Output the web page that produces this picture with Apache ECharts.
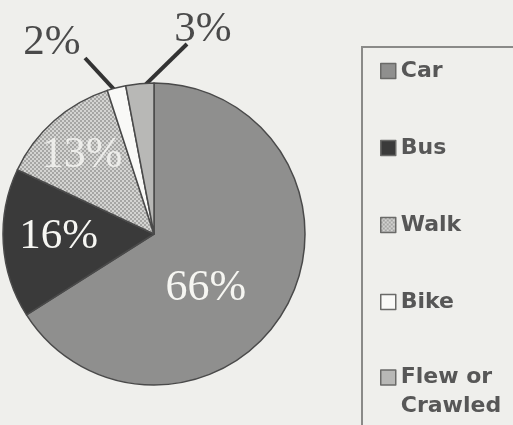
<!DOCTYPE html>
<html>
<head>
<meta charset="utf-8">
<script src="https://cdn.jsdelivr.net/npm/echarts@6/dist/echarts.min.js"></script>
<style>
  html, body { margin: 0; padding: 0; background: #efefec; }
  #chart { width: 513px; height: 425px; }
</style>
</head>
<body>
<div id="chart"></div>
<script>
// Commute mode shares (percent)
const categories = ['Car', 'Bus', 'Walk', 'Bike', 'Flew or Crawled'];
const shares = [66, 16, 13, 2, 3];

// Pie geometry (pixels)
const cx = 154, cy = 234, R = 151;

// Checkered fill used for the "Walk" slice
function checkerPattern() {
  const c = document.createElement('canvas');
  c.width = 4; c.height = 4;
  const g = c.getContext('2d');
  g.fillStyle = '#d4d4d2';
  g.fillRect(0, 0, 4, 4);
  g.fillStyle = '#a6a6a4';
  g.fillRect(0, 0, 2, 2);
  g.fillRect(2, 2, 2, 2);
  return { image: c, repeat: 'repeat' };
}

const fills = ['#8f8f8e', '#3a3a3a', checkerPattern(), '#f9f9f7', '#b8b8b6'];
const insideColors = ['#f6f6f2', '#f6f6f2', 'rgba(245,245,242,0.85)'];

const total = shares.reduce((a, b) => a + b, 0);
// point on the pie at a given fraction of the turn (clockwise from 12 o'clock)
function polar(frac, rr) {
  const a = frac * 2 * Math.PI;
  return [cx + rr * Math.sin(a), cy - rr * Math.cos(a)];
}
function midFrac(i) {
  let s = 0;
  for (let k = 0; k < i; k++) s += shares[k];
  return (s + shares[i] / 2) / total;
}

// nudges for the labels drawn inside the big slices
const insideShift = [[-17, 17], [-17, -2], [-20, -20]];
// callout placement for the thin slices: label centre and line start
const callouts = {
  3: { label: [52, 43], from: [85, 58] },
  4: { label: [203, 30], from: [187, 44] }
};

const data = categories.map((name, i) => {
  const item = { name: name, value: shares[i], itemStyle: { color: fills[i] } };
  if (callouts[i]) {
    item.label = { position: 'outside', color: '#4a4a4a', fontSize: 43, width: 90 };
    item.labelLine = { show: true, length: 10, length2: 10,
      lineStyle: { color: '#333333', width: 4 } };
  } else {
    item.label = { position: 'inside', color: insideColors[i], fontSize: i === 1 ? 43 : 44 };
  }
  return item;
});

const legendText = {
  fontFamily: 'DejaVu Sans', fontWeight: 'bold', fontSize: 22,
  color: '#575757', lineHeight: 24
};
const legendBase = {
  orient: 'vertical',
  left: 375,
  itemWidth: 15, itemHeight: 15,
  itemGap: 53,
  icon: 'rect',
  itemStyle: { borderColor: '#6a6a68', borderWidth: 1.5 },
  textStyle: legendText
};
const last = categories.length - 1;

const chart = echarts.init(document.getElementById('chart'), null, { renderer: 'canvas' });
chart.setOption({
  backgroundColor: '#efefec',
  animation: false,
  graphic: [{
    type: 'rect',
    left: 361, top: 46,
    shape: { width: 200, height: 420 },
    style: { fill: 'rgba(0,0,0,0)', stroke: '#8a8a88', lineWidth: 2 },
    silent: true
  }],
  legend: [
    Object.assign({}, legendBase, {
      top: 54,
      data: categories.slice(0, last)
    }),
    // two-line entry: a blank first line keeps the icon level with "Flew or"
    Object.assign({}, legendBase, {
      top: 329,
      textStyle: Object.assign({}, legendText, { lineHeight: 29 }),
      data: [categories[last]],
      formatter: n => '\n' + n.replace(' or ', ' or\n')
    })
  ],
  series: [{
    type: 'pie',
    center: [cx, cy],
    radius: R,
    startAngle: 90,
    clockwise: true,
    silent: true,
    itemStyle: { borderColor: '#4a4a4a', borderWidth: 1.5 },
    label: {
      show: true,
      formatter: '{c}%',
      fontFamily: 'Liberation Serif',
      fontSize: 44
    },
    labelLine: { show: false },
    labelLayout: function (params) {
      const i = params.dataIndex;
      if (callouts[i]) {
        const c = callouts[i];
        const end = polar(midFrac(i), R - 6);
        return {
          x: c.label[0], y: c.label[1],
          align: 'center', verticalAlign: 'middle',
          labelLinePoints: [end, end, c.from]
        };
      }
      return { dx: insideShift[i][0], dy: insideShift[i][1] };
    },
    data: data
  }]
});
</script>
</body>
</html>
